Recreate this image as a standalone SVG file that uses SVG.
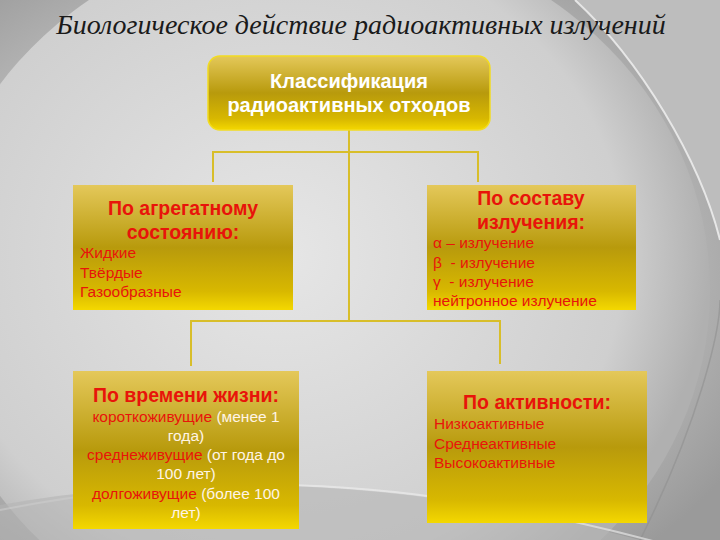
<svg xmlns="http://www.w3.org/2000/svg" width="720" height="540" viewBox="0 0 720 540">
<defs>
<radialGradient id="bg" cx="0.42" cy="0.5" r="0.7">
<stop offset="0" stop-color="#dcdcdc"/>
<stop offset="0.6" stop-color="#c4c4c4"/>
<stop offset="1" stop-color="#9a9a9a"/>
</radialGradient>
<radialGradient id="disc" cx="0.45" cy="0.45" r="0.55">
<stop offset="0" stop-color="#e6e6e6"/>
<stop offset="0.8" stop-color="#cfcfcf"/>
<stop offset="1" stop-color="#b0b0b0"/>
</radialGradient>
<linearGradient id="gold" x1="0" y1="0" x2="0" y2="1">
<stop offset="0" stop-color="#e4c85a"/>
<stop offset="0.5" stop-color="#b89a0c"/>
<stop offset="0.85" stop-color="#d8b800"/>
<stop offset="1" stop-color="#f4d800"/>
</linearGradient>
<style>
.box{fill:url(#gold)}
.top{fill:url(#gold);stroke:#f2dc20;stroke-width:1.5}
.con{fill:none;stroke:#d8be2a;stroke-width:2}
.h{font-family:"Liberation Sans",Arial,sans-serif;font-weight:bold;font-size:19.5px;fill:#e8140a;text-anchor:middle}
.i{font-family:"Liberation Sans",Arial,sans-serif;font-size:15.5px;fill:#e8140a}
.c{text-anchor:middle}
.w{fill:#fff4e6}
.t{font-family:"Liberation Sans",Arial,sans-serif;font-weight:bold;font-size:20px;fill:#ffffff;text-anchor:middle}
</style>
</defs>
<rect width="720" height="540" fill="url(#bg)"/>
<ellipse cx="320" cy="290" rx="390" ry="360" fill="url(#disc)"/>
<path d="M575,0 C640,60 700,160 720,240 L720,0 Z" fill="#bdbdbd"/>
<path d="M575,0 C640,60 700,160 720,240" fill="none" stroke="#f2f2f2" stroke-width="2" opacity="0.8"/>
<path d="M640,540 C700,420 720,330 720,300" fill="none" stroke="#909090" stroke-width="1.5" opacity="0.6"/>
<path d="M0,510 C200,470 420,470 720,560" fill="none" stroke="#f0f0f0" stroke-width="2" opacity="0.6"/>
<path d="M0,540 L0,505 C200,470 420,480 640,540 Z" fill="#b4b4b4" opacity="0.6"/>
<text x="361" y="34" font-family="'Liberation Serif','Times New Roman',serif" font-style="italic" font-size="28" fill="#1a1a1a" text-anchor="middle">Биологическое действие радиоактивных излучений</text>
<g id="connectors">
<path class="con" d="M349,130 V320 M213,182 V152 H478 V182 M191,366 V321 H500 V364"/>
</g>
<g id="root">
<rect class="top" x="208" y="56" width="282" height="74" rx="12"/>
<text class="t" x="349" y="88">Классификация</text>
<text class="t" x="349" y="112">радиоактивных отходов</text>
</g>
<g id="aggregate">
<rect class="box" x="73" y="185" width="220" height="125"/>
<text class="h" x="183" y="215">По агрегатному</text>
<text class="h" x="183" y="239">состоянию:</text>
<text class="i" x="80" y="258">Жидкие</text>
<text class="i" x="80" y="278">Твёрдые</text>
<text class="i" x="80" y="297">Газообразные</text>
</g>
<g id="radiation">
<rect class="box" x="427" y="185" width="209" height="125"/>
<text class="h" x="531" y="205">По составу</text>
<text class="h" x="531" y="229">излучения:</text>
<text class="i" x="433" y="248">α – излучение</text>
<text class="i" x="433" y="268" xml:space="preserve">β  - излучение</text>
<text class="i" x="433" y="287" xml:space="preserve">γ  - излучение</text>
<text class="i" x="433" y="306">нейтронное излучение</text>
</g>
<g id="lifetime">
<rect class="box" x="73" y="371" width="226" height="158"/>
<text class="h" x="186" y="402">По времени жизни:</text>
<text class="i c" x="186" y="422">короткоживущие<tspan class="w"> (менее 1</tspan></text>
<text class="i c w" x="186" y="441">года)</text>
<text class="i c" x="186" y="460">среднеживущие<tspan class="w"> (от года до</tspan></text>
<text class="i c w" x="186" y="479">100 лет)</text>
<text class="i c" x="186" y="499">долгоживущие<tspan class="w"> (более 100</tspan></text>
<text class="i c w" x="186" y="518">лет)</text>
</g>
<g id="activity">
<rect class="box" x="427" y="371" width="220" height="152"/>
<text class="h" x="537" y="409">По активности:</text>
<text class="i" x="434" y="429">Низкоактивные</text>
<text class="i" x="434" y="449">Среднеактивные</text>
<text class="i" x="434" y="468">Высокоактивные</text>
</g>
</svg>
